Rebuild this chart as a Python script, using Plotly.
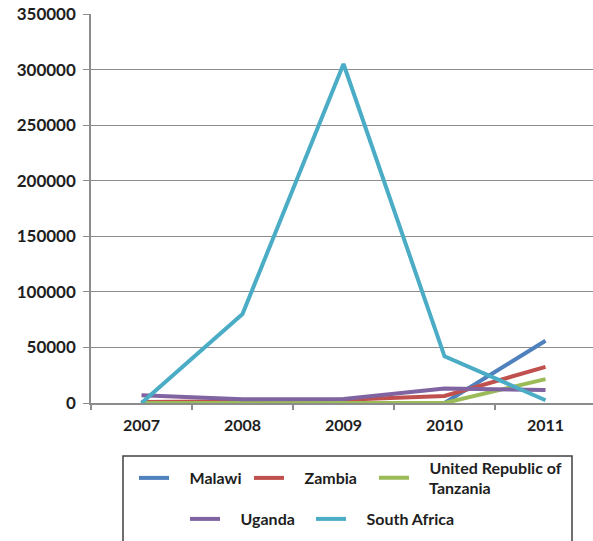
import plotly.graph_objects as go

years = ["2007", "2008", "2009", "2010", "2011"]
malawi = [0, 0, 0, 0, 56000]
zambia = [1000, 1500, 3000, 6300, 32500]
tanzania = [0, 0, 0, 0, 21500]
uganda = [7000, 3300, 3500, 13000, 11700]
south_africa = [0, 80000, 305000, 42000, 2500]

GAP = "&nbsp;" * 4
series = [
    ("Malawi", malawi, "#4F81BD", "legend"),
    ("Zambia", zambia, "#C0504D", "legend"),
    ("United Republic of<br>Tanzania", tanzania, "#9BBB59", "legend3"),
    ("Uganda", uganda, "#8064A2", "legend2"),
    ("South Africa", south_africa, "#4BACC6", "legend4"),
]

FONT = "Lato"
TXT = "#1e1e1e"
GRID = "#8c8c8c"

fig = go.Figure()
for name, vals, color, leg in series:
    fig.add_trace(go.Scatter(
        x=years, y=vals, name=GAP + name.replace("<br>", "<br>" + GAP),
        mode="lines",
        line=dict(color=color, width=4),
        legend=leg,
    ))

W, H = 593, 541
L, R, T, B = 91, 0, 14, 138
pw, ph = W - L - R, H - T - B

def px_x(p):
    return (p - L) / pw

def px_y(p):
    return (H - B - p) / ph

def legend_box(x, y, entrywidth):
    return dict(
        x=px_x(x), y=px_y(y), entrywidth=entrywidth,
        orientation="h", xanchor="left", yanchor="middle",
        font=dict(family=FONT, size=16, color=TXT, weight="bold"),
        bgcolor="rgba(0,0,0,0)", borderwidth=0,
        itemwidth=30, tracegroupgap=0,
    )

fig.update_layout(
    width=W, height=H,
    margin=dict(l=L, r=R, t=T, b=B, pad=0),
    paper_bgcolor="white", plot_bgcolor="white",
    font=dict(family=FONT, color=TXT),
    xaxis=dict(
        type="category", range=[-0.5, 4.47],
        showgrid=False, showline=True, linecolor=GRID, linewidth=1.5,
        ticks="outside", ticklen=5, tickcolor=GRID, tickwidth=1.5,
        tickson="boundaries", ticklabelstandoff=7,
        tickfont=dict(family=FONT, size=16, color=TXT, weight="bold"),
        fixedrange=True,
    ),
    yaxis=dict(
        range=[0, 350000], dtick=50000, tickformat="d",
        showgrid=True, gridcolor=GRID, gridwidth=1,
        showline=True, linecolor=GRID, linewidth=1.5,
        ticks="outside", ticklen=6, tickcolor=GRID, tickwidth=1,
        zeroline=False, ticklabelstandoff=4,
        tickfont=dict(family=FONT, size=17, color=TXT, weight="bold"),
        fixedrange=True,
    ),
    legend=legend_box(134, 478, 70),
    legend3=legend_box(374, 478, 160),
    legend2=legend_box(185, 519, 90),
    legend4=legend_box(311, 519, 130),
    shapes=[dict(
        type="rect", xref="paper", yref="paper",
        x0=px_x(123), x1=px_x(572), y0=px_y(456), y1=px_y(560),
        line=dict(color="#404040", width=1.5), fillcolor="rgba(0,0,0,0)",
    )],
)

fig.write_html("out.html")
